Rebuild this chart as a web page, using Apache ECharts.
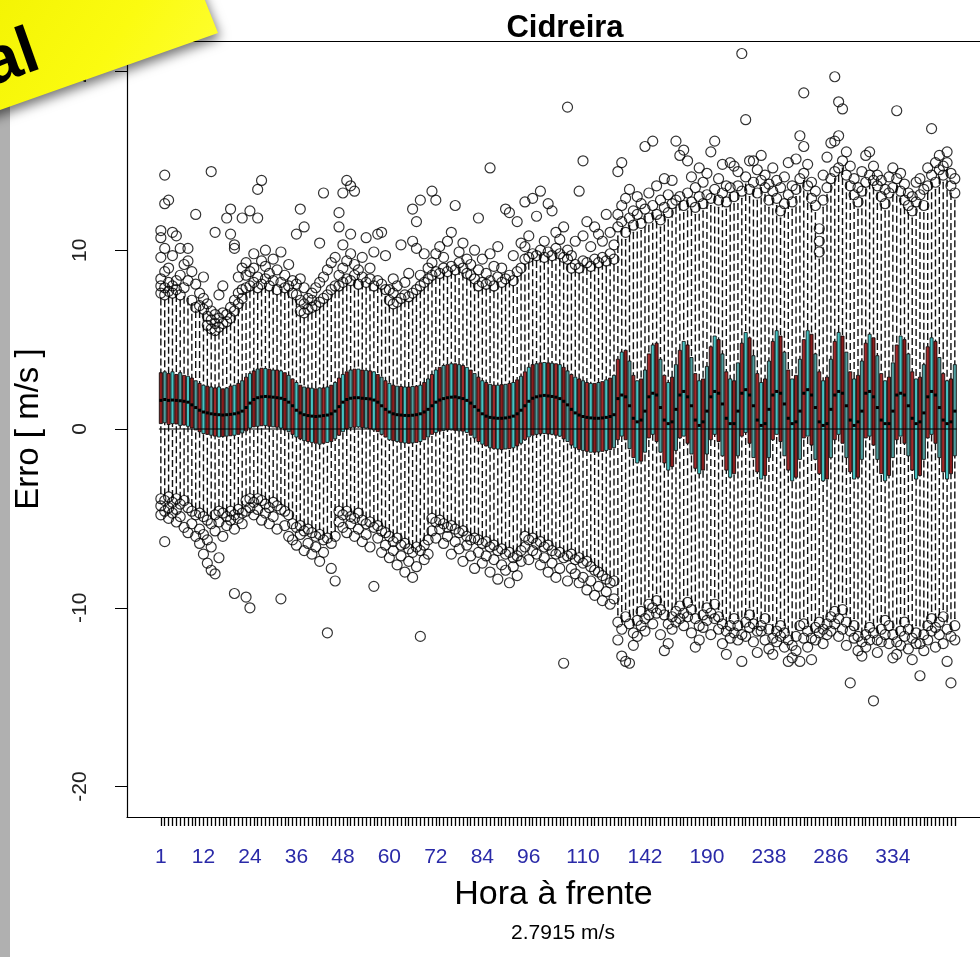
<!DOCTYPE html>
<html>
<head>
<meta charset="utf-8">
<script src="https://cdn.jsdelivr.net/npm/echarts@6/dist/echarts.min.js"></script>
<style>
  html, body { margin: 0; padding: 0; background: #fff; }
  #chart { width: 980px; height: 957px; }
</style>
</head>
<body>
<div id="chart"></div>
<script>
// horas de previsão: de hora em hora até 118, depois de 3 em 3 horas
const hours = [
  1,2,3,4,5,6,7,8,9,10,11,12,13,14,15,16,17,18,19,20,21,22,23,24,25,26,27,28,29,30,
  31,32,33,34,35,36,37,38,39,40,41,42,43,44,45,46,47,48,49,50,51,52,53,54,55,56,57,58,59,60,
  61,62,63,64,65,66,67,68,69,70,71,72,73,74,75,76,77,78,79,80,81,82,83,84,85,86,87,88,89,90,
  91,92,93,94,95,96,97,98,99,100,101,102,103,104,105,106,107,108,109,110,111,112,113,114,115,116,117,118,
  121,124,127,130,133,136,139,142,145,148,151,154,157,160,163,166,169,172,175,178,181,184,187,190,
  193,196,199,202,205,208,211,214,217,220,223,226,229,232,235,238,241,244,247,250,253,256,259,262,
  265,268,271,274,277,280,283,286,289,292,295,298,301,304,307,310,313,316,319,322,325,328,331,334,
  337,340,343,346,349,352,355,358,361,364,367,370,373,376,379,382
];
// rótulos que aparecem no eixo x
const tickLabels = [1, 12, 24, 36, 48, 60, 72, 84, 96, 110, 142, 190, 238, 286, 334];
const yTicks = [-20, -10, 0, 10, 20];

// bigode inferior, quartis, mediana, bigode superior (m/s)
const whiskerLow = [
  -3.6,-3.7,-3.5,-3.8,-3.6,-3.9,-3.7,-4.1,-4.3,-4.5,
  -4.4,-4.6,-4.8,-5.0,-4.5,-4.3,-4.4,-4.6,-4.3,-4.5,-4.2,-4.4,
  -3.7,-3.6,-3.8,-3.6,-3.7,-3.9,-4.1,-3.8,-4.0,-4.2,-4.3,-4.5,
  -5.0,-5.2,-5.1,-5.4,-5.3,-5.5,-5.7,-5.6,-5.9,-5.8,-6.1,-5.7,
  -4.3,-4.5,-4.3,-4.6,-4.7,-4.4,-4.8,-5.0,-4.9,-5.2,-5.1,-5.4,
  -5.5,-5.7,-6.0,-5.8,-6.2,-6.1,-6.4,-6.6,-6.3,-6.5,-6.2,-5.9,
  -4.7,-4.9,-4.8,-5.0,-5.2,-5.1,-5.3,-5.5,-5.4,-5.7,-5.9,-5.8,
  -5.9,-6.1,-6.0,-6.3,-6.2,-6.5,-6.4,-6.7,-6.6,-6.9,-6.8,-6.5,
  -5.7,-5.9,-5.8,-6.1,-6.0,-6.3,-6.2,-6.5,-6.7,-6.6,-6.9,-6.8,
  -6.7,-7.0,-6.9,-7.2,-7.1,-7.4,-7.6,-7.7,-7.9,-8.1,-8.3,-8.2,
  -10.4,-10.8,-10.1,-10.5,-11.0,-10.3,-9.8,-10.2,
  -9.4,-9.6,-9.2,-9.7,-10.0,-10.5,-10.1,-9.8,
  -9.5,-9.9,-9.3,-9.7,-10.2,-10.6,-10.0,-9.6,
  -9.9,-9.4,-10.1,-10.5,-10.9,-10.6,-10.2,-10.6,
  -11.1,-10.4,-10.0,-10.5,-10.9,-10.6,-10.2,-10.8,
  -11.3,-10.9,-10.6,-11.0,-11.4,-11.7,-11.2,-10.6,
  -10.5,-10.9,-11.3,-10.7,-10.4,-10.8,-10.5,-10.1,
  -9.8,-10.2,-9.7,-10.4,-10.9,-10.6,-11.2,-11.5,
  -11.1,-10.7,-11.0,-11.4,-10.8,-10.3,-10.6,-11.1,
  -11.5,-10.9,-10.4,-10.8,-11.3,-11.0,-11.6,-11.1,
  -10.6,-10.2,-10.7,-10.4,-10.1,-10.8,-11.2,-10.6
];
const q1 = [
  0.30,0.35,0.25,0.30,0.28,0.20,0.22,0.15,
  0.05,-0.05,-0.15,-0.25,-0.30,-0.35,
  -0.40,-0.45,-0.42,-0.40,-0.38,-0.35,-0.30,-0.22,
  -0.10,0.05,0.12,0.15,
  0.18,0.20,0.15,0.12,0.10,0.05,-0.05,-0.15,
  -0.30,-0.45,-0.55,-0.65,
  -0.70,-0.75,-0.80,-0.85,-0.80,-0.75,-0.70,-0.55,
  -0.35,-0.15,0.00,0.08,
  0.10,0.12,0.08,0.05,0.00,-0.05,-0.15,-0.30,
  -0.45,-0.60,-0.65,-0.70,
  -0.75,-0.78,-0.80,-0.78,-0.75,-0.70,-0.60,-0.45,
  -0.30,-0.20,-0.12,-0.08,
  -0.05,-0.05,-0.08,-0.10,-0.12,-0.20,-0.35,-0.50,
  -0.70,-0.85,-0.95,-1.05,
  -1.10,-1.12,-1.15,-1.12,-1.10,-1.05,-0.95,-0.80,
  -0.60,-0.45,-0.35,-0.30,
  -0.28,-0.25,-0.28,-0.30,-0.35,-0.40,-0.55,-0.70,
  -0.90,-1.05,-1.15,-1.20,
  -1.25,-1.30,-1.30,-1.28,-1.25,-1.20,-1.15,-1.05,
  -0.6,-0.4,-0.6,-1.1,-1.6,-1.9,-1.8,-1.3,
  -0.5,-0.3,-0.7,-1.3,-1.9,-2.3,-2.1,-1.2,
  -0.5,-0.4,-0.8,-1.4,-2.2,-2.5,-2.3,-1.4,
  -0.6,-0.3,-0.7,-1.5,-2.3,-2.7,-2.5,-1.5,
  -0.4,-0.2,-0.8,-1.6,-2.4,-2.8,-2.6,-1.6,
  -0.6,-0.3,-0.7,-1.5,-2.3,-2.9,-2.7,-1.7,
  -0.5,-0.4,-0.9,-1.7,-2.5,-2.9,-2.8,-1.6,
  -0.6,-0.3,-0.8,-1.6,-2.4,-2.8,-2.7,-1.7,
  -0.5,-0.4,-0.9,-1.7,-2.5,-2.9,-2.6,-1.6,
  -0.6,-0.4,-0.8,-1.5,-2.3,-2.8,-2.6,-1.7,
  -0.5,-0.3,-0.8,-1.6,-2.4,-2.8,-2.5,-1.5
];
const median = [
  1.60,1.65,1.60,1.62,1.60,1.58,1.55,1.50,
  1.35,1.20,1.05,0.95,0.90,0.85,
  0.82,0.80,0.78,0.80,0.82,0.85,0.90,1.00,
  1.20,1.45,1.65,1.75,
  1.80,1.82,1.80,1.78,1.75,1.72,1.65,1.50,
  1.30,1.05,0.90,0.80,
  0.75,0.72,0.70,0.72,0.75,0.78,0.85,1.00,
  1.25,1.50,1.65,1.72,
  1.75,1.75,1.72,1.70,1.68,1.62,1.50,1.30,
  1.10,0.95,0.85,0.80,
  0.78,0.76,0.75,0.77,0.80,0.85,0.95,1.10,
  1.30,1.50,1.62,1.70,
  1.75,1.78,1.80,1.75,1.70,1.60,1.45,1.25,
  1.05,0.85,0.72,0.65,
  0.62,0.60,0.60,0.62,0.66,0.72,0.85,1.05,
  1.30,1.55,1.72,1.80,
  1.85,1.88,1.85,1.82,1.78,1.70,1.55,1.35,
  1.10,0.90,0.78,0.70,
  0.65,0.62,0.60,0.60,0.62,0.65,0.70,0.80,
  1.7,1.9,1.8,1.3,0.6,0.4,0.5,1.0,
  1.8,2.0,1.9,1.2,0.5,0.3,0.4,1.1,
  1.9,2.1,1.8,1.3,0.5,0.2,0.4,1.0,
  1.8,2.1,2.0,1.4,0.6,0.3,0.3,1.0,
  2.0,2.2,1.9,1.3,0.5,0.2,0.3,1.1,
  1.9,2.1,2.0,1.4,0.6,0.3,0.4,1.0,
  2.0,2.2,1.9,1.2,0.4,0.2,0.3,1.1,
  1.9,2.1,2.0,1.3,0.5,0.2,0.4,1.0,
  2.0,2.1,1.8,1.2,0.5,0.3,0.3,1.0,
  1.9,2.0,1.9,1.3,0.6,0.3,0.4,0.9,
  1.8,2.1,1.9,1.2,0.5,0.3,0.4,1.0
];
const q3 = [
  3.15,3.20,3.10,3.20,3.05,3.15,3.00,2.95,
  2.85,2.70,2.55,2.45,2.40,2.35,
  2.30,2.35,2.25,2.30,2.40,2.45,2.55,2.70,
  2.90,3.10,3.25,3.35,
  3.40,3.38,3.35,3.30,3.30,3.25,3.15,3.00,
  2.80,2.60,2.45,2.35,
  2.30,2.28,2.25,2.30,2.30,2.35,2.45,2.60,
  2.85,3.05,3.20,3.30,
  3.35,3.35,3.30,3.28,3.25,3.20,3.05,2.90,
  2.70,2.55,2.45,2.40,
  2.38,2.35,2.35,2.38,2.40,2.45,2.60,2.80,
  3.05,3.30,3.45,3.55,
  3.60,3.65,3.65,3.60,3.55,3.45,3.30,3.10,
  2.90,2.70,2.60,2.50,
  2.45,2.45,2.48,2.50,2.55,2.60,2.75,2.95,
  3.20,3.45,3.60,3.65,
  3.70,3.72,3.70,3.68,3.65,3.60,3.45,3.25,
  3.05,2.90,2.80,2.70,
  2.60,2.55,2.55,2.60,2.65,2.75,2.85,3.00,
  3.9,4.3,4.4,3.8,3.0,2.7,2.8,3.3,
  4.2,4.7,4.8,3.9,3.0,2.6,2.9,3.6,
  4.4,4.9,4.7,4.0,3.1,2.7,2.8,3.5,
  4.6,5.2,5.0,4.2,3.2,2.8,2.7,3.7,
  4.8,5.4,5.1,4.1,3.1,2.6,2.8,3.8,
  4.9,5.5,5.2,4.3,3.3,2.8,3.0,3.9,
  5.0,5.5,5.3,4.2,3.2,2.7,2.9,3.9,
  4.9,5.4,5.2,4.3,3.2,2.8,3.0,3.8,
  4.8,5.3,5.1,4.1,3.1,2.7,2.9,3.7,
  4.7,5.2,5.0,4.2,3.2,2.8,2.9,3.6,
  4.6,5.1,4.9,4.0,3.1,2.7,2.8,3.6
];
const whiskerHigh = [
  7.3,7.2,7.4,7.3,7.5,7.2,7.4,7.3,
  7.0,6.6,6.6,6.4,
  5.6,5.4,5.3,5.4,5.6,5.7,5.9,6.3,6.7,7.0,
  7.6,7.7,7.9,7.6,7.8,8.0,7.7,7.9,7.5,7.8,7.6,7.7,7.3,7.2,
  6.3,6.2,6.4,6.5,6.6,6.8,7.0,7.2,7.5,7.7,
  7.7,7.9,8.1,8.0,8.3,7.8,8.2,7.9,8.1,7.7,8.0,7.8,7.4,
  6.9,6.7,6.8,7.0,7.2,7.1,7.3,7.5,7.7,7.9,8.1,
  8.3,8.5,8.4,8.7,8.5,8.8,8.6,9.0,8.7,8.4,8.3,8.1,
  7.7,7.9,7.8,8.0,7.7,8.2,7.9,8.1,8.3,8.0,8.5,8.7,
  9.2,9.3,9.5,9.4,9.7,9.3,9.6,9.4,9.8,9.5,9.3,9.2,
  8.7,8.9,8.7,9.1,9.0,8.8,9.2,9.0,9.3,9.1,9.5,9.2,
  10.8,11.2,10.6,11.4,11.0,11.6,11.1,11.9,
  11.4,12.1,11.6,11.3,12.0,11.7,12.2,12.4,
  12.6,12.1,12.8,12.3,12.0,12.6,12.2,12.7,
  12.5,13.0,12.4,12.8,12.3,13.1,12.6,13.2,
  12.9,13.7,13.0,13.4,12.8,13.5,13.1,12.4,
  12.9,12.5,11.8,12.2,12.7,12.3,13.0,13.6,
  13.9,13.2,12.5,12.1,9.5,12.4,13.1,13.6,
  14.0,14.2,14.6,13.8,13.2,12.7,12.3,12.9,
  13.4,13.8,13.5,13.2,12.6,12.2,12.8,13.1,
  13.6,12.9,12.4,12.1,11.8,12.3,12.7,12.1,
  13.2,13.8,13.4,14.1,13.8,14.5,13.2,12.8
];

// valores atípicos: [posição da caixa (1..206), erro em m/s]
const outliersHigh = [
  [1,7.6],[1,8.0],[1,8.4],[1,9.6],[1,10.7],[1,11.1],[2,7.5],[2,7.9],[2,8.8],[2,10.1],[2,12.6],[2,14.2],[3,7.7],[3,8.2],[3,9.0],[3,12.8],
  [4,7.6],[4,8.0],[4,9.7],[4,11.0],[5,7.8],[5,8.3],[5,10.8],[6,7.5],[6,8.6],[6,10.1],[7,7.9],[7,9.2],[8,8.3],[8,9.4],[8,10.1],
  [9,7.2],[9,8.8],[10,6.8],[10,8.1],[10,12.0],[11,6.9],[11,7.6],[12,6.7],[12,7.3],[12,8.5],
  [13,5.8],[13,6.3],[13,7.0],[14,5.6],[14,6.1],[14,6.6],[14,14.4],[15,5.5],[15,5.9],[15,6.4],[15,11.0],[16,5.7],[16,6.2],[16,7.5],
  [17,5.9],[17,6.5],[17,8.0],[18,6.0],[18,6.4],[18,11.8],[19,6.2],[19,6.8],[19,12.3],[19,10.9],[20,6.6],[20,7.2],[20,10.3],[20,10.1],
  [21,7.0],[21,7.6],[21,8.5],[22,7.3],[22,7.8],[22,11.8],[22,9.0],
  [23,7.9],[23,8.6],[23,9.3],[24,8.0],[24,8.8],[24,12.2],[25,8.2],[25,9.0],[25,9.8],[26,7.9],[26,8.5],[26,11.8],[26,13.4],
  [27,8.1],[27,9.4],[27,13.9],[28,8.4],[28,9.1],[28,10.0],[29,8.0],[29,8.7],[30,8.3],[30,9.5],[31,7.8],[31,8.9],[32,8.2],[32,9.9],
  [33,7.9],[33,8.6],[34,8.0],[34,9.2],[35,7.6],[35,8.3],[36,7.5],[36,8.1],[36,10.9],
  [37,6.6],[37,7.2],[37,8.4],[37,12.3],[38,6.5],[38,7.0],[38,7.9],[38,11.3],[39,6.7],[39,7.3],[40,6.8],[40,7.2],[40,7.6],
  [41,6.9],[41,7.9],[42,7.1],[42,8.2],[42,10.4],[43,7.3],[43,8.5],[43,13.2],[44,7.5],[44,8.9],[45,7.8],[45,9.3],[46,8.0],[46,9.6],
  [47,8.0],[47,8.6],[47,12.1],[47,11.3],[48,8.2],[48,9.0],[48,13.2],[48,10.3],[49,8.4],[49,9.4],[49,13.9],[50,8.3],[50,9.8],[50,10.9],[50,13.6],
  [51,8.6],[51,9.2],[51,13.3],[52,8.1],[52,8.9],[53,8.5],[53,9.6],[54,8.2],[54,10.7],[55,8.4],[55,9.0],[56,8.0],[56,9.9],
  [57,8.3],[57,10.9],[58,8.1],[58,11.0],[59,7.8],[59,9.7],
  [60,7.2],[60,7.8],[61,7.0],[61,7.6],[61,8.4],[62,7.1],[62,8.0],[63,7.3],[63,10.3],[64,7.5],[64,8.2],[65,7.4],[65,8.7],
  [66,7.6],[66,10.5],[66,12.3],[67,7.8],[67,10.1],[67,11.6],[68,8.0],[68,8.6],[68,12.8],[69,8.2],[69,9.8],[70,8.4],[70,9.0],
  [71,8.6],[71,9.3],[71,13.3],[72,8.8],[72,9.8],[72,12.8],[73,8.7],[73,10.2],[74,9.0],[74,9.6],[75,8.8],[75,10.5],[76,9.1],[76,11.0],
  [77,8.9],[77,12.5],[78,9.3],[78,9.9],[79,9.0],[79,10.4],[80,8.7],[80,9.5],[81,8.6],[81,9.2],[82,8.4],[82,10.0],
  [83,8.0],[83,8.9],[83,11.8],[84,8.2],[84,9.5],[85,8.1],[85,8.7],[86,8.3],[86,9.8],[86,14.6],[87,8.0],[87,9.1],[88,8.5],[88,10.2],
  [89,8.2],[89,9.0],[90,8.4],[90,12.3],[91,8.6],[91,12.1],[92,8.3],[92,9.7],[93,8.8],[93,11.6],[94,9.0],[94,10.4],
  [95,9.5],[95,10.2],[95,12.7],[96,9.6],[96,10.8],[97,9.8],[97,12.9],[98,9.7],[98,11.9],[99,10.0],[99,13.3],[100,9.6],[100,10.5],
  [101,9.9],[101,12.6],[102,9.7],[102,12.2],[103,10.1],[103,11.0],[104,9.8],[104,10.6],[105,9.6],[105,11.3],[106,9.5],[106,10.0],[106,18.0],
  [107,9.0],[107,9.7],[108,9.2],[108,10.5],[109,9.0],[109,13.3],[110,9.4],[110,10.8],[110,15.0],[111,9.3],[111,11.6],[112,9.1],[112,10.2],
  [113,9.5],[113,11.3],[114,9.3],[114,10.9],[115,9.6],[115,10.5],[116,9.4],[116,12.0],[117,9.8],[117,11.0],[118,9.5],[118,10.3],
  [119,11.3],[119,12.0],[119,14.4],[120,11.6],[120,14.9],[120,12.5],[121,11.0],[121,12.9],[122,11.8],[122,13.4],[123,11.4],[123,12.2],
  [124,12.0],[124,13.0],[125,11.5],[125,12.6],[126,12.3],[126,15.8],[127,11.8],[127,13.2],[128,12.5],[128,16.1],[129,12.0],[129,13.6],
  [130,11.7],[130,12.8],[131,12.4],[131,14.0],[132,12.1],[132,13.1],[133,12.6],[133,13.9],[134,12.8],[134,16.1],[135,13.0],[135,15.3],
  [136,12.5],[136,15.6],[137,13.2],[137,15.0],[138,12.7],[138,14.1],[139,12.4],[139,13.5],[140,13.0],[140,14.6],[141,12.6],[141,13.8],
  [142,13.1],[142,14.3],[143,12.9],[143,15.5],[144,13.4],[144,16.1],[145,12.8],[145,14.0],[146,13.2],[146,14.8],[147,12.7],[147,13.6],
  [148,13.5],[148,14.9],[149,13.0],[149,14.7],[150,13.6],[150,14.4],[151,13.3],[151,21.0],[152,14.1],[152,17.3],[153,13.4],[153,15.0],
  [154,13.8],[154,15.0],[155,13.2],[155,14.5],[156,13.9],[156,15.3],[157,13.5],[157,14.2],[158,12.8],[158,13.7],[159,13.3],[159,14.6],
  [160,12.9],[160,13.9],[161,12.2],[161,13.5],[162,12.6],[162,14.1],[163,13.1],[163,14.9],[164,12.7],[164,13.6],[165,13.4],[165,15.1],
  [166,14.0],[166,16.4],[167,14.3],[167,15.8],[167,18.8],[168,13.6],[168,14.8],[169,12.9],[169,13.8],[170,12.5],[170,13.3],
  [171,9.9],[171,10.5],[171,11.2],[172,12.8],[172,14.2],[173,13.5],[173,15.2],[174,14.0],[174,16.0],[175,14.4],[175,16.1],[175,19.7],
  [176,14.6],[176,16.4],[176,18.3],[177,15.0],[177,17.9],[178,14.2],[178,15.5],[179,13.6],[179,14.7],[180,13.1],[180,14.0],
  [181,12.7],[181,13.5],[182,13.3],[182,14.4],[183,13.8],[183,15.3],[184,14.2],[184,15.5],[185,13.9],[185,14.7],[186,13.6],[186,14.2],
  [187,13.0],[187,13.9],[188,12.6],[188,13.4],[189,13.2],[189,14.1],[190,13.5],[190,14.6],[191,14.0],[191,17.8],[192,13.3],[192,14.3],
  [193,12.8],[193,13.7],[194,12.5],[194,13.2],[195,12.2],[195,13.0],[196,12.7],[196,13.8],[197,13.1],[197,14.0],[198,12.5],[198,13.4],
  [199,13.6],[199,14.6],[200,14.2],[200,16.8],[201,13.8],[201,14.9],[202,14.5],[202,15.3],[203,14.2],[203,14.7],[204,14.9],[204,15.5],
  [205,13.6],[205,14.3],[206,13.2],[206,14.0]
];
const outliersLow = [
  [1,-3.9],[1,-4.3],[1,-4.8],[2,-4.0],[2,-4.6],[2,-6.3],[3,-3.8],[3,-4.4],[3,-5.0],[4,-4.1],[4,-4.7],[5,-3.9],[5,-4.5],[5,-5.2],
  [6,-4.2],[6,-4.9],[7,-4.0],[7,-5.5],[8,-4.4],[8,-5.8],[9,-4.6],[9,-5.3],[10,-4.8],[10,-6.0],
  [11,-4.7],[11,-5.6],[11,-6.4],[12,-4.9],[12,-5.9],[12,-7.0],[13,-5.1],[13,-6.2],[13,-7.5],[14,-5.3],[14,-6.6],[14,-7.9],
  [15,-4.8],[15,-5.7],[15,-8.1],[16,-4.6],[16,-5.2],[16,-7.2],[17,-4.7],[17,-6.0],[18,-4.9],[18,-5.4],[19,-4.6],[19,-5.1],
  [20,-4.8],[20,-5.6],[20,-9.2],[21,-4.5],[21,-5.0],[22,-4.7],[22,-5.3],
  [23,-4.0],[23,-4.6],[23,-9.4],[24,-3.9],[24,-4.4],[24,-10.0],[25,-4.1],[25,-4.8],[26,-3.9],[26,-4.5],[27,-4.0],[27,-5.1],
  [28,-4.2],[28,-4.7],[29,-4.4],[29,-5.3],[30,-4.1],[30,-4.9],[31,-4.3],[31,-5.6],[32,-4.5],[32,-9.5],[33,-4.6],[33,-5.4],[34,-4.8],[34,-6.0],
  [35,-5.3],[35,-6.2],[36,-5.5],[36,-6.5],[37,-5.4],[37,-5.9],[38,-5.7],[38,-6.8],[39,-5.6],[39,-6.4],[40,-5.8],[40,-7.0],
  [41,-6.0],[41,-6.6],[42,-5.9],[42,-7.4],[43,-6.2],[43,-6.9],[44,-6.1],[44,-11.4],[45,-6.4],[45,-7.8],[46,-6.0],[46,-8.5],
  [47,-4.6],[47,-5.2],[48,-4.8],[48,-5.5],[49,-4.6],[49,-5.8],[50,-4.9],[50,-5.3],[51,-5.0],[51,-6.0],[52,-4.7],[52,-5.6],
  [53,-5.1],[53,-6.3],[54,-5.3],[54,-5.9],[55,-5.2],[55,-6.6],[56,-5.5],[56,-8.8],[57,-5.4],[57,-6.1],[58,-5.7],[58,-6.9],
  [59,-5.8],[59,-6.5],[60,-6.0],[60,-7.2],[61,-6.3],[61,-6.8],[62,-6.1],[62,-7.6],[63,-6.5],[63,-7.1],[64,-6.4],[64,-8.0],
  [65,-6.7],[65,-7.4],[66,-6.9],[66,-8.3],[67,-6.6],[67,-7.7],[68,-6.8],[68,-11.6],[69,-6.5],[69,-7.3],[70,-6.2],[70,-7.0],
  [71,-5.0],[71,-5.7],[72,-5.2],[72,-6.1],[73,-5.1],[73,-5.6],[74,-5.3],[74,-6.4],[75,-5.5],[75,-6.0],[76,-5.4],[76,-7.0],
  [77,-5.6],[77,-6.3],[78,-5.8],[78,-6.7],[79,-5.7],[79,-7.4],[80,-6.0],[80,-6.5],[81,-6.2],[81,-7.1],[82,-6.1],[82,-7.8],
  [83,-6.2],[83,-6.9],[84,-6.4],[84,-7.5],[85,-6.3],[85,-7.1],[86,-6.6],[86,-8.0],[87,-6.5],[87,-7.3],[88,-6.8],[88,-8.4],
  [89,-6.7],[89,-7.6],[90,-7.0],[90,-7.9],[91,-6.9],[91,-8.6],[92,-7.2],[92,-7.7],[93,-7.1],[93,-8.2],[94,-6.8],[94,-7.4],
  [95,-6.0],[95,-6.6],[96,-6.2],[96,-7.3],[97,-6.1],[97,-6.8],[98,-6.4],[98,-7.0],[99,-6.3],[99,-7.6],[100,-6.6],[100,-7.2],
  [101,-6.5],[101,-8.0],[102,-6.8],[102,-7.5],[103,-7.0],[103,-8.3],[104,-6.9],[104,-7.8],[105,-7.2],[105,-13.1],[106,-7.1],[106,-8.5],
  [107,-7.0],[107,-7.8],[108,-7.3],[108,-8.1],[109,-7.2],[109,-8.6],[110,-7.5],[110,-8.3],[111,-7.4],[111,-9.0],[112,-7.7],[112,-8.5],
  [113,-7.9],[113,-9.3],[114,-8.0],[114,-8.8],[115,-8.2],[115,-9.6],[116,-8.4],[116,-9.1],[117,-8.6],[117,-9.8],[118,-8.5],[118,-9.5],
  [119,-10.8],[119,-11.8],[120,-11.2],[120,-12.7],[121,-10.5],[121,-13.0],[122,-10.9],[122,-13.1],[123,-11.4],[123,-12.1],
  [124,-10.7],[124,-11.6],[125,-10.2],[125,-11.0],[126,-10.6],[126,-11.3],[127,-9.8],[127,-10.4],[128,-10.0],[128,-10.9],
  [129,-9.6],[129,-10.3],[130,-10.1],[130,-11.5],[131,-10.4],[131,-12.4],[132,-10.9],[132,-12.0],[133,-10.5],[133,-11.2],
  [134,-10.2],[134,-10.8],[135,-9.9],[135,-10.6],[136,-10.3],[136,-11.0],[137,-9.7],[137,-10.5],[138,-10.1],[138,-11.4],
  [139,-10.6],[139,-12.2],[140,-11.0],[140,-11.8],[141,-10.4],[141,-11.1],[142,-10.0],[142,-10.7],[143,-10.3],[143,-11.5],
  [144,-9.8],[144,-10.6],[145,-10.5],[145,-11.2],[146,-10.9],[146,-12.0],[147,-11.3],[147,-12.6],[148,-11.0],[148,-11.7],
  [149,-10.6],[149,-11.4],[150,-11.0],[150,-11.8],[151,-11.5],[151,-13.0],[152,-10.8],[152,-11.6],[153,-10.4],[153,-11.1],
  [154,-10.9],[154,-11.9],[155,-11.3],[155,-12.5],[156,-11.0],[156,-11.3],[157,-10.6],[157,-11.8],[158,-11.2],[158,-12.3],
  [159,-11.7],[159,-12.6],[160,-11.3],[160,-11.9],[161,-11.0],[161,-11.6],[162,-11.4],[162,-12.2],[163,-11.8],[163,-13.0],
  [164,-12.1],[164,-12.8],[165,-11.6],[165,-12.4],[166,-11.0],[166,-13.0],[167,-10.9],[167,-11.7],[168,-11.3],[168,-12.2],
  [169,-11.7],[169,-12.9],[170,-11.1],[170,-11.8],[171,-10.8],[171,-11.4],[172,-11.2],[172,-12.0],[173,-10.9],[173,-11.5],
  [174,-10.5],[174,-11.3],[175,-10.2],[175,-10.9],[176,-10.6],[176,-11.6],[177,-10.1],[177,-11.2],[178,-10.8],[178,-12.1],
  [179,-11.3],[179,-14.2],[180,-11.0],[180,-11.7],[181,-11.6],[181,-12.4],[182,-11.9],[182,-12.7],[183,-11.5],[183,-12.2],
  [184,-11.1],[184,-11.8],[185,-11.4],[185,-15.2],[186,-11.8],[186,-12.5],[187,-11.2],[187,-11.9],[188,-10.7],[188,-11.5],
  [189,-11.0],[189,-12.0],[190,-11.5],[190,-12.8],[191,-11.9],[191,-12.6],[192,-11.3],[192,-12.1],[193,-10.8],[193,-11.6],
  [194,-11.2],[194,-12.3],[195,-11.7],[195,-12.9],[196,-11.4],[196,-12.0],[197,-12.0],[197,-13.8],[198,-11.5],[198,-12.4],
  [199,-11.0],[199,-11.8],[200,-10.6],[200,-11.3],[201,-11.1],[201,-12.2],[202,-10.8],[202,-11.5],[203,-10.5],[203,-12.0],
  [204,-11.2],[204,-13.0],[205,-11.6],[205,-14.2],[206,-11.0],[206,-11.8]
];

const boxColors = ['#8b1d1d', '#4f9d9d', '#a3292a', '#45c3c3'];
const n = hours.length;
const font = 'Liberation Sans, Arial, sans-serif';
// limites do eixo x como no R (4% de folga à esquerda); a janela corta o lado direito
const xMin = 0.5 - 0.04 * n;
const xMax = n + 6.5;

const chart = echarts.init(document.getElementById('chart'));
const boxData = hours.map((h, i) => [i + 1, whiskerLow[i], q1[i], median[i], q3[i], whiskerHigh[i]]);

// desenha cada caixa no estilo do boxplot do R (bigodes tracejados)
function renderBox(params, api) {
  const pos = api.value(0);
  const bw = api.size([1, 0])[0];
  const half = bw * 0.4;
  const x = api.coord([pos, 0])[0];
  const yLo = api.coord([pos, api.value(1)])[1];
  const yQ1 = api.coord([pos, api.value(2)])[1];
  const yMed = api.coord([pos, api.value(3)])[1];
  const yQ3 = api.coord([pos, api.value(4)])[1];
  const yHi = api.coord([pos, api.value(5)])[1];
  const whisk = { stroke: '#111', lineWidth: 1.4, lineDash: [7, 3] };
  const staple = { stroke: '#111', lineWidth: 1 };
  return {
    type: 'group',
    children: [
      { type: 'line', shape: { x1: x, y1: yHi, x2: x, y2: yQ3 }, style: whisk },
      { type: 'line', shape: { x1: x, y1: yLo, x2: x, y2: yQ1 }, style: whisk },
      { type: 'line', shape: { x1: x - half / 2, y1: yHi, x2: x + half / 2, y2: yHi }, style: staple },
      { type: 'line', shape: { x1: x - half / 2, y1: yLo, x2: x + half / 2, y2: yLo }, style: staple },
      { type: 'rect', shape: { x: x - half, y: yQ3, width: half * 2, height: yQ1 - yQ3 },
        style: { fill: boxColors[(pos - 1) % boxColors.length], stroke: '#000', lineWidth: 0.8 } },
      { type: 'line', shape: { x1: x - half, y1: yMed, x2: x + half, y2: yMed },
        style: { stroke: '#000', lineWidth: 3 } }
    ]
  };
}

const option = {
  animation: false,
  backgroundColor: '#fff',
  textStyle: { fontFamily: font },
  title: [
    { text: 'Cidreira', left: 560, top: 8, textAlign: 'center',
      textStyle: { fontFamily: font, fontSize: 31, fontWeight: 'bold', color: '#000' } },
    { text: '2.7915 m/s', left: 558, top: 918, textAlign: 'center',
      textStyle: { fontFamily: font, fontSize: 21, fontWeight: 'normal', color: '#000' } }
  ],
  grid: { left: 127, top: 41, right: 0, bottom: 140, show: false },
  xAxis: [
    {
      type: 'value',
      min: xMin,
      max: xMax,
      name: 'Hora à frente',
      nameLocation: 'middle',
      nameGap: 61,
      nameTextStyle: { fontFamily: font, fontSize: 34, color: '#000' },
      axisLine: { show: true, onZero: false, lineStyle: { color: '#000', width: 1.2 } },
      splitLine: { show: false },
      axisTick: { show: true, length: 9, lineStyle: { color: '#000', width: 1.3 },
        customValues: hours.map((h, i) => i + 1) },
      axisLabel: {
        customValues: tickLabels.map(h => hours.indexOf(h) + 1),
        formatter: v => String(hours[Math.round(v) - 1]),
        margin: 30, fontSize: 21, color: '#2a2aa8', fontFamily: font
      }
    },
    {
      // borda superior do gráfico
      type: 'value',
      position: 'top',
      min: xMin,
      max: xMax,
      axisLine: { show: true, onZero: false, lineStyle: { color: '#000', width: 1.2 } },
      axisTick: { show: false },
      axisLabel: { show: false },
      splitLine: { show: false }
    }
  ],
  yAxis: {
    type: 'value',
    min: -21.7,
    max: 21.7,
    name: 'Erro [ m/s ]',
    nameLocation: 'middle',
    nameRotate: 90,
    nameGap: 82,
    nameTextStyle: { fontFamily: font, fontSize: 33, color: '#000' },
    axisLine: { show: true, onZero: false, lineStyle: { color: '#000', width: 1.2 } },
    splitLine: { show: false },
    axisTick: { show: true, length: 12, lineStyle: { color: '#000', width: 1 }, customValues: yTicks },
    axisLabel: { customValues: yTicks, rotate: 90, margin: 36, fontSize: 21, color: '#222', fontFamily: font }
  },
  series: [
    {
      type: 'custom',
      renderItem: renderBox,
      data: boxData,
      encode: { x: 0, y: [1, 2, 3, 4, 5] },
      z: 2
    },
    {
      type: 'scatter',
      data: outliersHigh.concat(outliersLow),
      symbol: 'circle',
      symbolSize: 10,
      itemStyle: { color: 'rgba(0,0,0,0)', borderColor: '#000', borderWidth: 1.2 },
      z: 3
    },
    {
      type: 'line',
      data: [[0.5, 0], [n + 0.5, 0]],
      symbol: 'none',
      lineStyle: { color: '#000', width: 1.2 },
      z: 4
    }
  ],
  graphic: [
    { type: 'rect', left: 0, top: 0, z: 100,
      shape: { x: 0, y: 0, width: 10, height: 957 },
      style: { fill: '#b0b0b0' } },
    { type: 'polygon', z: 110,
      shape: { points: [[-20, -40], [189, -40], [218, 33], [-20, 117]] },
      style: {
        fill: new echarts.graphic.LinearGradient(0, 0, 1, 1, [
          { offset: 0, color: '#f2f200' },
          { offset: 0.55, color: '#fbfb10' },
          { offset: 1, color: '#ffff3a' }
        ]),
        shadowBlur: 12, shadowColor: 'rgba(0,0,0,0.55)', shadowOffsetX: 2, shadowOffsetY: 5
      } },
    { type: 'text', z: 120, x: -4, y: 100, rotation: 0.34,
      style: { text: 'al', fontSize: 66, fontWeight: 'bold', fontFamily: font, fill: '#000',
        textAlign: 'left', textVerticalAlign: 'bottom' } }
  ]
};

chart.setOption(option);
</script>
</body>
</html>
